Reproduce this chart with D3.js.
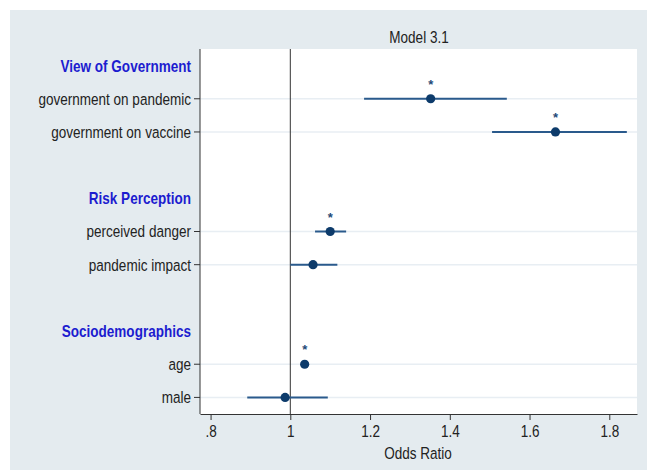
<!DOCTYPE html>
<html>
<head>
<meta charset="utf-8">
<script src="https://cdn.jsdelivr.net/npm/d3@7"></script>
<style>
html,body{margin:0;padding:0;background:#fff;}
svg text{font-family:"Liberation Sans",Arial,sans-serif;}
</style>
</head>
<body>
<svg id="chart" width="647" height="474"></svg>
<script>
// ---- data ----
const rowLabels = ["View of Government","government on pandemic","government on vaccine","",
  "Risk Perception","perceived danger","pandemic impact","",
  "Sociodemographics","age","male"];
const rowIsHeader = [true,false,false,false,true,false,false,false,true,false,false];
const estLabels = ["government on pandemic","government on vaccine","perceived danger","pandemic impact","age","male"];
const estOR     = [1.352, 1.665, 1.100, 1.057, 1.036, 0.987];
const estLow    = [1.185, 1.506, 1.062, 1.000, 1.030, 0.892];
const estHigh   = [1.543, 1.844, 1.140, 1.118, 1.042, 1.094];
const estSig    = [true, true, true, false, true, false];
const xTicks = [0.8, 1.0, 1.2, 1.4, 1.6, 1.8];
const xTickLabels = [".8","1","1.2","1.4","1.6","1.8"];

const SX = 0.82, FS = "16.5px";
const svg = d3.select("#chart");
const W = 647, H = 474;
const plot = {left:200, right:637, top:49, bottom:414};

// condensed text helper
function ctext(parent, tx, ty, str, anchor, opts) {
  const t = parent.append("g").attr("transform", `translate(${tx},${ty}) scale(${SX},1)`)
    .append("text").attr("text-anchor", anchor).attr("font-size", FS)
    .attr("fill", (opts && opts.fill) || "#222")
    .attr("font-weight", (opts && opts.bold) ? "bold" : "normal")
    .text(str);
  if (opts && opts.dy) t.attr("dy", opts.dy);
  return t;
}

// background
svg.append("rect").attr("x",10).attr("y",10).attr("width",W-10).attr("height",460).attr("fill","#e4ebef");
svg.append("rect").attr("x",plot.left).attr("y",plot.top).attr("width",plot.right-plot.left).attr("height",plot.bottom-plot.top).attr("fill","#ffffff");

const x = d3.scaleLinear().domain([0.7735, 1.8695]).range([plot.left, plot.right]);
const y = d3.scaleBand().domain(d3.range(rowLabels.length)).range([plot.top, plot.bottom]);
const yc = i => y(i) + y.bandwidth()/2;
const rowOf = lab => rowLabels.indexOf(lab);

// gridlines for item rows
const itemRows = d3.range(rowLabels.length).filter(i => !rowIsHeader[i] && rowLabels[i] !== "");
svg.append("g").selectAll("line").data(itemRows).join("line")
  .attr("x1",plot.left).attr("x2",plot.right)
  .attr("y1",d=>yc(d)).attr("y2",d=>yc(d))
  .attr("stroke","#e8eef3").attr("stroke-width",1.5);

// reference line at 1
svg.append("line").attr("x1",x(1)).attr("x2",x(1)).attr("y1",plot.top).attr("y2",plot.bottom)
  .attr("stroke","#333").attr("stroke-width",1);

// y axis labels
const yl = svg.append("g");
d3.range(rowLabels.length).filter(i=>rowLabels[i]!=="").forEach(i => {
  ctext(yl, 191, yc(i), rowLabels[i], "end",
    {bold: rowIsHeader[i], fill: rowIsHeader[i] ? "#1c1ccf" : "#222", dy: "0.36em"});
});
// y ticks
svg.append("g").selectAll("line").data(itemRows).join("line")
  .attr("x1",194).attr("x2",plot.left).attr("y1",d=>yc(d)).attr("y2",d=>yc(d))
  .attr("stroke","#333").attr("stroke-width",1);
// left axis line
svg.append("line").attr("x1",plot.left).attr("x2",plot.left).attr("y1",plot.top).attr("y2",plot.bottom).attr("stroke","#333");

// x axis
const xa = svg.append("g").attr("transform",`translate(0,${plot.bottom})`)
  .call(d3.axisBottom(x).tickValues(xTicks).tickFormat((d,i)=>xTickLabels[i]).tickSize(6).tickSizeOuter(0));
xa.select(".domain").attr("stroke","#333");
xa.selectAll(".tick line").attr("stroke","#333");
xa.selectAll(".tick text").attr("font-size",FS).attr("fill","#222").attr("dy","0.85em")
  .attr("transform",`scale(${SX},1)`);
ctext(svg, 418, 459, "Odds Ratio", "middle");

// title
ctext(svg, 419, 43, "Model 3.1", "middle");

// CIs
const g = svg.append("g");
g.selectAll("line.ci").data(estLabels).join("line").attr("class","ci")
  .attr("x1",(d,i)=>x(estLow[i])).attr("x2",(d,i)=>x(estHigh[i]))
  .attr("y1",d=>yc(rowOf(d))).attr("y2",d=>yc(rowOf(d)))
  .attr("stroke","#2a5a8c").attr("stroke-width",2);
g.selectAll("circle").data(estLabels).join("circle")
  .attr("cx",(d,i)=>x(estOR[i])).attr("cy",d=>yc(rowOf(d))).attr("r",4.6)
  .attr("fill","#0d3b6b");
g.selectAll("text.sig").data(estLabels.filter((d,i)=>estSig[i])).join("text").attr("class","sig")
  .attr("x",d=>x(estOR[estLabels.indexOf(d)])).attr("y",d=>yc(rowOf(d))-10)
  .attr("text-anchor","middle").attr("font-size","13px").attr("font-weight","bold").attr("fill","#1f4a78")
  .text("*");
</script>
</body>
</html>
